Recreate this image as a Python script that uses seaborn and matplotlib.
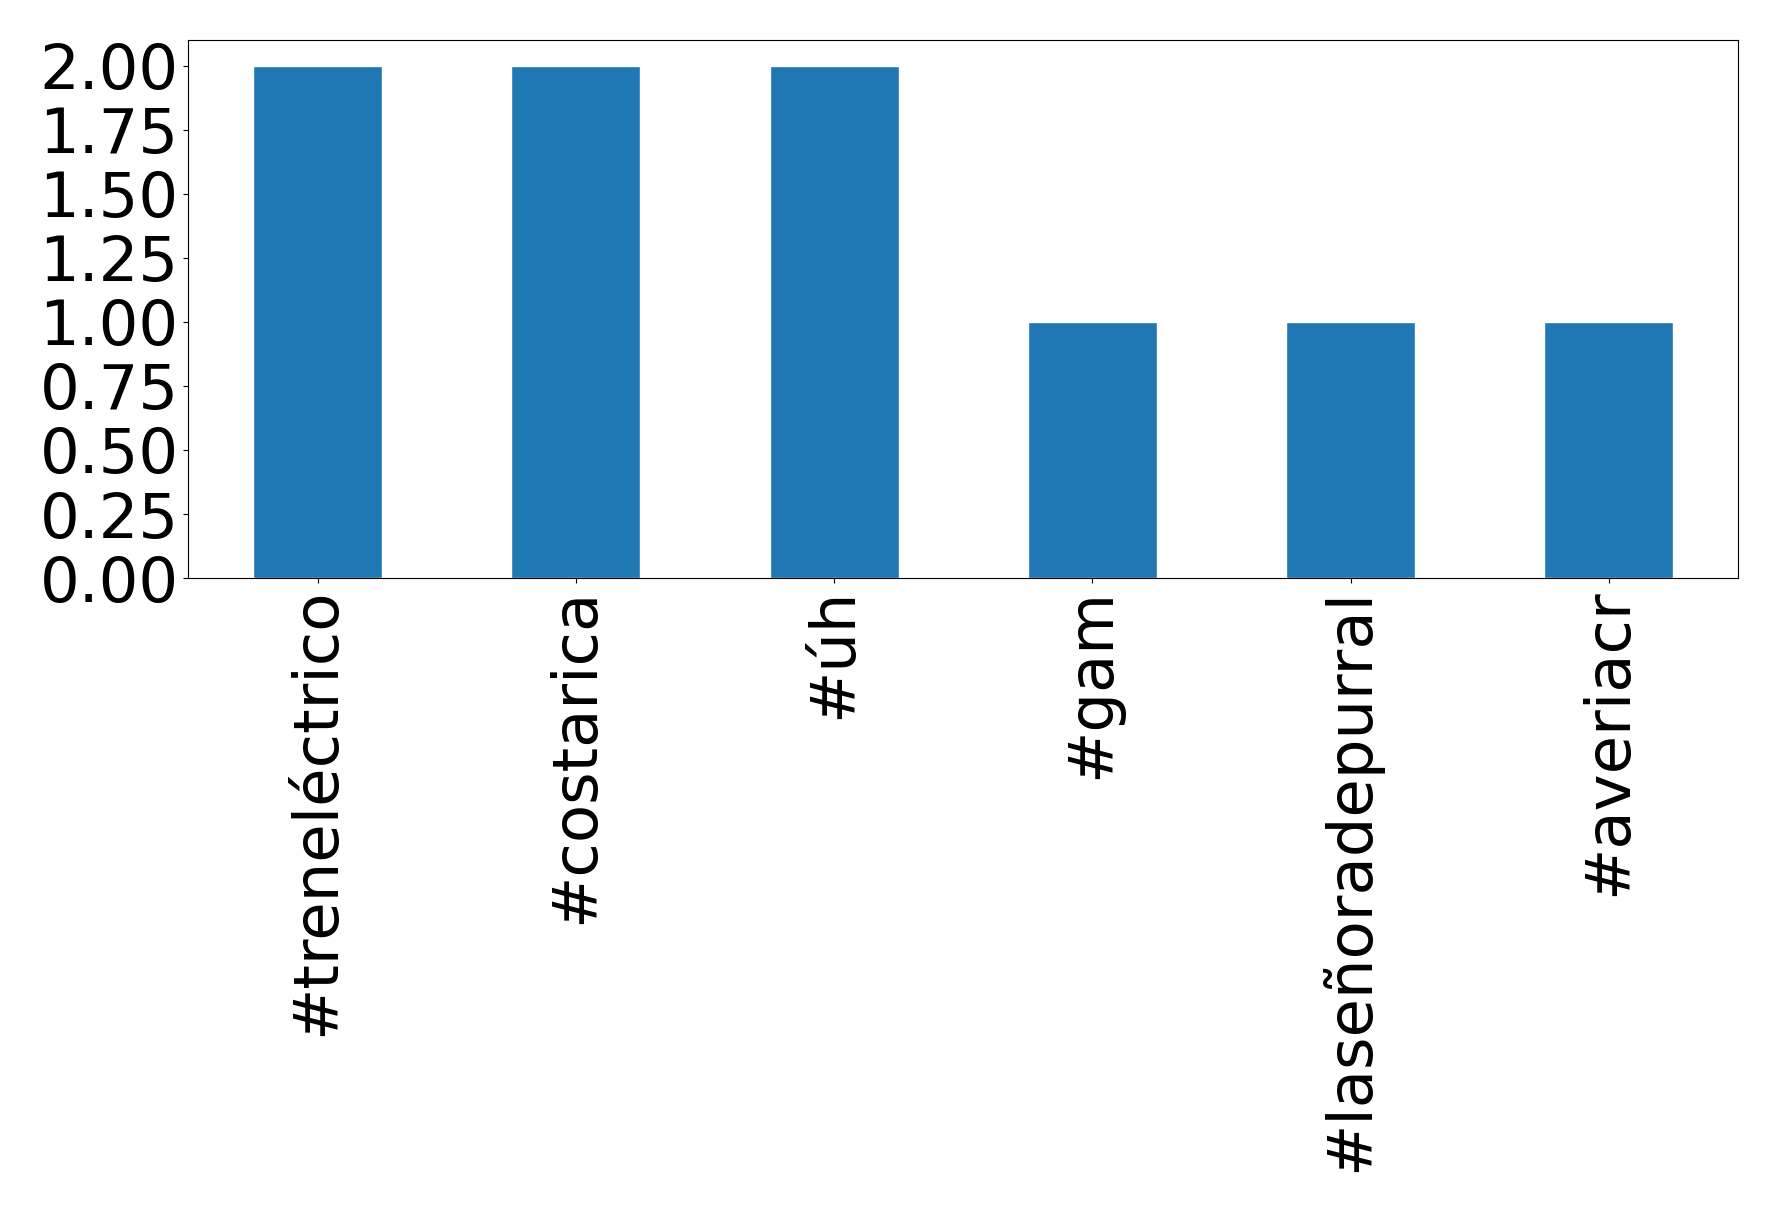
import matplotlib
matplotlib.use("Agg")
import matplotlib.pyplot as plt
import seaborn as sns
import pandas as pd

# Datos del gráfico
hashtags = ["#treneléctrico", "#costarica", "#úh", "#gam", "#laseñoradepurral", "#averiacr"]
conteos = [2, 2, 2, 1, 1, 1]

df = pd.DataFrame({"hashtag": hashtags, "conteo": conteos})

sns.set_style("ticks")
plt.rcParams['font.family'] = ['DejaVu Sans']

fig, ax = plt.subplots(figsize=(17.78, 12.12), dpi=100)
sns.barplot(data=df, x="hashtag", y="conteo", color="#1f77b4",
            saturation=1, width=0.5, ax=ax)

ax.set_xlim(-0.5, len(hashtags) - 0.5)
ax.set_ylim(0, 2.1)
ax.set_yticks([0, 0.25, 0.5, 0.75, 1.0, 1.25, 1.5, 1.75, 2.0])
ax.set_yticklabels([f"{v:.2f}" for v in ax.get_yticks()])
ax.set_xlabel("")
ax.set_ylabel("")
ax.tick_params(axis="both", labelsize=45, colors="black", width=0.8, length=3.5)
ax.tick_params(axis="x", labelrotation=90)
for s in ax.spines.values():
    s.set_visible(True)
    s.set_color("black")
    s.set_linewidth(0.8)

fig.subplots_adjust(left=0.106, right=0.9775, top=0.967, bottom=0.523)
fig.savefig("out.png", dpi=100)
